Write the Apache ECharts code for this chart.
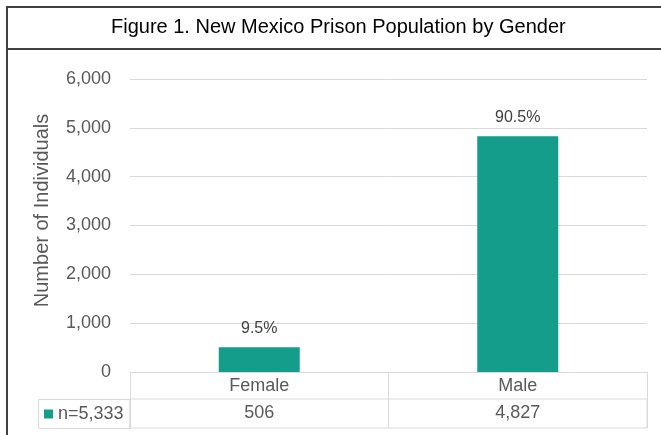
<!DOCTYPE html>
<html>
<head>
<meta charset="utf-8">
<script src="https://cdn.jsdelivr.net/npm/echarts@6/dist/echarts.min.js"></script>
<style>
html,body{margin:0;padding:0;background:#fff;}
#main{width:661px;height:435px;}
</style>
</head>
<body>
<div id="main"></div>
<script>
var titleText = 'Figure 1. New Mexico Prison Population by Gender';
var categories = ['Female', 'Male'];
var values = [506, 4827];
var yTicks = [0, 1000, 2000, 3000, 4000, 5000, 6000];
var yAxisName = 'Number of Individuals';

var total = values.reduce(function (a, b) { return a + b; }, 0);
function fmt(n) { return n.toLocaleString('en-US'); }
var seriesName = 'n=' + fmt(total);
var FONT = '"Liberation Sans", Arial, sans-serif';
var TEAL = '#149D8B';
var GRIDC = '#d9d9d9';

var chart = echarts.init(document.getElementById('main'), null, {renderer: 'canvas'});
chart.setOption({
  animation: false,
  backgroundColor: '#fff',
  textStyle: {fontFamily: FONT},
  title: {
    text: titleText,
    left: 111,
    top: 17,
    padding: 0,
    textStyle: {fontFamily: FONT, fontSize: 20, fontWeight: 'normal', color: '#000'}
  },
  legend: {
    data: [seriesName],
    left: 44,
    top: 405,
    padding: 0,
    itemWidth: 9,
    itemHeight: 9,
    icon: 'rect',
    selectedMode: false,
    textStyle: {fontFamily: FONT, fontSize: 18, color: '#595959'}
  },
  grid: [
    {left: 130, right: 14, top: 79, height: 293, containLabel: false},
    {left: 130, right: 14, top: 399, height: 29, show: true, borderColor: GRIDC, borderWidth: 1, containLabel: false}
  ],
  xAxis: [
    {
      type: 'category',
      gridIndex: 0,
      data: categories,
      axisLine: {show: true, lineStyle: {color: GRIDC, width: 1}},
      axisTick: {show: true, alignWithLabel: false, length: 27, lineStyle: {color: GRIDC}},
      axisLabel: {fontFamily: FONT, fontSize: 18, color: '#595959', margin: 5}
    },
    {
      type: 'category',
      gridIndex: 1,
      position: 'top',
      data: values.map(fmt),
      axisLine: {show: false},
      axisTick: {show: false},
      splitLine: {show: true, lineStyle: {color: GRIDC, width: 1}},
      axisLabel: {inside: true, fontFamily: FONT, fontSize: 18, color: '#595959', margin: 5}
    }
  ],
  yAxis: [
    {
      type: 'value',
      gridIndex: 0,
      min: 0,
      max: 6000,
      interval: 1000,
      name: yAxisName,
      nameLocation: 'middle',
      nameGap: 78,
      nameTextStyle: {fontFamily: FONT, fontSize: 20, color: '#595959', padding: [0, 0, 0, 30]},
      axisLine: {show: false},
      axisTick: {show: false},
      splitLine: {show: true, lineStyle: {color: GRIDC, width: 1}},
      axisLabel: {
        fontFamily: FONT, fontSize: 18, color: '#595959', margin: 19,
        formatter: function (v) { return yTicks.indexOf(v) >= 0 ? fmt(v) : ''; }
      }
    },
    {type: 'value', gridIndex: 1, show: false, min: 0, max: 1}
  ],
  series: [
    {
      name: seriesName,
      type: 'bar',
      xAxisIndex: 0,
      yAxisIndex: 0,
      data: values,
      barWidth: 81,
      itemStyle: {color: TEAL},
      label: {
        show: true,
        position: 'top',
        distance: 11,
        fontFamily: FONT,
        fontSize: 16,
        color: '#404040',
        formatter: function (p) { return (p.value / total * 100).toFixed(1) + '%'; }
      }
    }
  ],
  graphic: [
    {type: 'rect', shape: {x: 38.5, y: 399.5, width: 91.5, height: 29}, style: {fill: 'none', stroke: GRIDC, lineWidth: 1}, silent: true},
    {type: 'line', shape: {x1: 6, y1: 7, x2: 661, y2: 7}, style: {stroke: '#404040', lineWidth: 2}, silent: true},
    {type: 'line', shape: {x1: 6, y1: 49, x2: 661, y2: 49}, style: {stroke: '#404040', lineWidth: 2}, silent: true},
    {type: 'line', shape: {x1: 7, y1: 6, x2: 7, y2: 435}, style: {stroke: '#404040', lineWidth: 2}, silent: true}
  ]
});
</script>
</body>
</html>
